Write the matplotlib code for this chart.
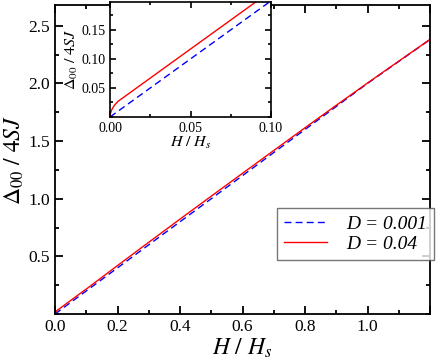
import numpy as np
import matplotlib.pyplot as plt
from matplotlib.ticker import MultipleLocator

plt.rcParams['font.family'] = 'Liberation Serif'
plt.rcParams['mathtext.fontset'] = 'stix'

h_blue = [0.0, 0.01, 0.02, 0.05, 0.1, 0.2, 0.3, 0.4, 0.5, 0.6, 0.7, 0.8, 0.9, 1.0, 1.1, 1.2]
d_blue = [0.0, 0.02, 0.04, 0.10, 0.20, 0.40, 0.60, 0.80, 1.00, 1.20, 1.40, 1.60, 1.80, 2.00, 2.19, 2.38]

h_red = [0.0, 0.0002, 0.0005, 0.001, 0.002, 0.003, 0.005, 0.0075, 0.01, 0.02, 0.03, 0.05,
         0.07, 0.09, 0.1, 0.2, 0.3, 0.4, 0.5, 0.6, 0.7, 0.8, 0.9, 1.0, 1.1, 1.2]
d_red = [0.0, 0.005, 0.008, 0.012, 0.017, 0.021, 0.027, 0.032, 0.037, 0.057, 0.077, 0.117,
         0.157, 0.197, 0.216, 0.420, 0.622, 0.823, 1.022, 1.220, 1.418, 1.615, 1.810, 2.003,
         2.193, 2.382]

labels = ['D = 0.001', 'D = 0.04']


def style_axes(ax, lw):
    ax.tick_params(which='both', direction='in', top=True, right=True, width=lw)
    for s in ax.spines.values():
        s.set_linewidth(lw)


fig = plt.figure(figsize=(4.36, 3.61), dpi=100)
ax = fig.add_axes([55 / 436, 47 / 361, 375 / 436, 309 / 361])
ax.plot(h_blue, d_blue, color='blue', ls=(0, (5, 3)), lw=1.0, label=labels[0])
ax.plot(h_red, d_red, color='red', lw=1.0, label=labels[1])
ax.set_xlim(0, 1.2)
ax.set_ylim(0, 2.68)
ax.xaxis.set_major_locator(MultipleLocator(0.2))
ax.xaxis.set_minor_locator(MultipleLocator(0.1))
ax.set_yticks([0.5, 1.0, 1.5, 2.0, 2.5])
ax.yaxis.set_minor_locator(MultipleLocator(0.25))
ax.xaxis.set_major_formatter(plt.FuncFormatter(lambda v, p: '' if v > 1.05 else f'{v:.1f}'))
style_axes(ax, 1.3)
ax.tick_params(which='major', length=6, labelsize=12.5)
ax.tick_params(which='minor', length=3)
ax.set_xlabel(r'$H\ /\ H_s$', fontsize=17, labelpad=1)
ax.set_ylabel(r'$\Delta_{00}\ /\ \mathit{4SJ}$', fontsize=17, labelpad=2)
leg = ax.legend(loc='lower right', bbox_to_anchor=(1.011, 0.175), borderaxespad=0,
                fancybox=False, edgecolor='#555555', prop={'style': 'italic', 'size': 14},
                handlelength=2.2, borderpad=0.35, labelspacing=0.15, handletextpad=1.0)
leg.get_frame().set_linewidth(1.0)

ins = fig.add_axes([110 / 436, 244 / 361, 161 / 436, 115 / 361])
ins.plot(h_blue, d_blue, color='blue', ls=(0, (5, 3)), lw=1.0)
ins.plot(h_red, d_red, color='red', lw=1.0)
ins.set_xlim(0, 0.1)
ins.set_ylim(0, 0.198)
ins.set_xticks([0.0, 0.05, 0.1])
ins.xaxis.set_minor_locator(MultipleLocator(0.025))
ins.set_yticks([0.05, 0.1, 0.15])
ins.yaxis.set_minor_locator(MultipleLocator(0.025))
ins.xaxis.set_major_formatter(plt.FuncFormatter(lambda v, p: f'{v:.2f}'))
ins.yaxis.set_major_formatter(plt.FuncFormatter(lambda v, p: f'{v:.2f}'))
style_axes(ins, 1.2)
ins.tick_params(which='major', length=4, labelsize=10)
ins.tick_params(which='minor', length=2)
ins.set_xlabel(r'$H\ /\ H_s$', fontsize=11.5, labelpad=0)
ins.set_ylabel(r'$\Delta_{00}\ /\ \mathit{4SJ}$', fontsize=11.5, labelpad=1)

fig.savefig('out.png', dpi=100)
